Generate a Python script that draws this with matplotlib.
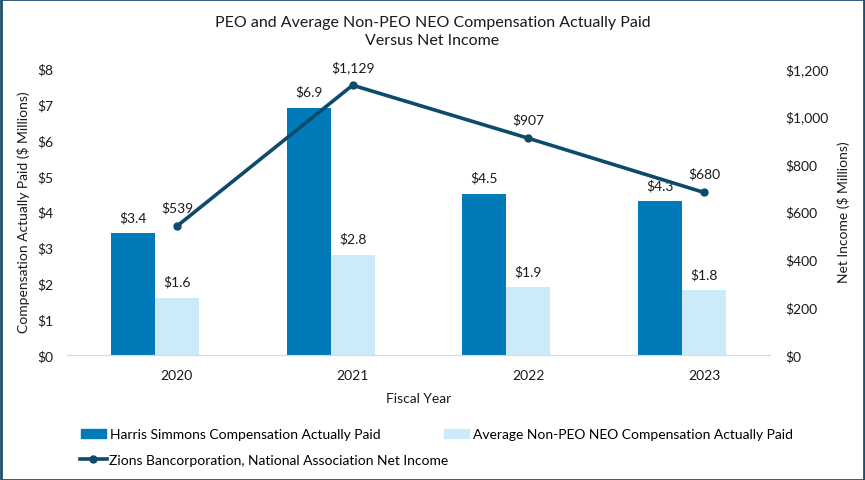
import numpy as np
import matplotlib
matplotlib.use('Agg')
import matplotlib.pyplot as plt
from matplotlib.patches import Rectangle
from matplotlib.lines import Line2D

plt.rcParams['font.family'] = ['Lato', 'DejaVu Sans']

years = ['2020', '2021', '2022', '2023']
peo_cap = [3.4, 6.9, 4.5, 4.3]
neo_cap = [1.6, 2.8, 1.9, 1.8]
net_income = [539, 1129, 907, 680]

dark_blue = '#007AB9'
light_blue = '#CCEBFA'
line_col = '#0D4A6B'
text_col = '#1a1a1a'

fig = plt.figure(figsize=(8.65, 4.81), dpi=100)
ax = fig.add_axes([0.0775, 0.26, 0.8127, 0.596])
ax2 = ax.twinx()

x = np.arange(len(years))
w = 0.25
ax.bar(x - w / 2, peo_cap, w, color=dark_blue, zorder=2)
ax.bar(x + w / 2, neo_cap, w, color=light_blue, zorder=2)
for xi, v in zip(x - w / 2, peo_cap):
    ax.annotate(f'${v:.1f}', (xi, v), xytext=(0, 7), textcoords='offset points',
                ha='center', va='bottom', fontsize=10, color=text_col)
for xi, v in zip(x + w / 2, neo_cap):
    ax.annotate(f'${v:.1f}', (xi, v), xytext=(0, 7), textcoords='offset points',
                ha='center', va='bottom', fontsize=10, color=text_col)

ax2.plot(x + w / 2, net_income, color=line_col, lw=2.6, marker='o', ms=5, zorder=3)
for xi, v in zip(x + w / 2, net_income):
    ax2.annotate(f'${v:,.0f}', (xi, v), xytext=(0, 9), textcoords='offset points',
                 ha='center', va='bottom', fontsize=10, color=text_col)

ax.set_xlim(-0.5, 3.5)
ax.set_ylim(0, 8)
ax2.set_ylim(0, 1200)
ax.set_xticks(x + w / 2)
ax.set_xticklabels(years)
ax.set_yticks(range(0, 9))
ax.set_yticklabels([f'${v}' for v in range(0, 9)])
ax2.set_yticks(range(0, 1201, 200))
ax2.set_yticklabels([f'${v:,}' for v in range(0, 1201, 200)])

for a in (ax, ax2):
    for s in a.spines.values():
        s.set_visible(False)
    a.tick_params(length=0, labelsize=10, colors=text_col)
ax.spines['bottom'].set_visible(True)
ax.spines['bottom'].set_color('#D9D9D9')
ax.tick_params(axis='x', pad=10)
ax.tick_params(axis='y', pad=10)
ax2.tick_params(axis='y', pad=11)

ax.set_xlabel('Fiscal Year', fontsize=10, color=text_col, labelpad=8)
ax.set_ylabel('Compensation Actually Paid ($ Millions)', fontsize=10, color=text_col, labelpad=5)
ax2.set_ylabel('Net Income ($ Millions)', fontsize=10, color=text_col, labelpad=6)

fig.text(0.5, 0.967, 'PEO and Average Non-PEO NEO Compensation Actually Paid\nVersus Net Income',
         ha='center', va='top', fontsize=11.5, color=text_col, linespacing=1.35)

# legend row 1: the two bar series
bar_handles = [Rectangle((0, 0), 1, 1, color=dark_blue),
               Rectangle((0, 0), 1, 1, color=light_blue)]
bar_labels = ['Harris Simmons Compensation Actually Paid',
              'Average Non-PEO NEO Compensation Actually Paid']
fig.legend(bar_handles, bar_labels, loc='center left', bbox_to_anchor=(0.086, 0.095),
           ncol=2, frameon=False, fontsize=10, handlelength=1.8, handleheight=0.6,
           handletextpad=0.25, columnspacing=4.6, borderpad=0)
# legend row 2: the line
line_handle = [Line2D([], [], color=line_col, lw=2.6, marker='o', ms=5)]
fig.legend(line_handle, ['Zions Bancorporation, National Association Net Income'],
           loc='center left', bbox_to_anchor=(0.084, 0.042), frameon=False, fontsize=10,
           handlelength=1.95, handletextpad=0.2, borderpad=0)

fig.patches.append(Rectangle((0.001, 0.001), 0.998, 0.998, transform=fig.transFigure,
                             fill=False, edgecolor='#1F4E6E', lw=2))

fig.savefig('out.png', dpi=100)
